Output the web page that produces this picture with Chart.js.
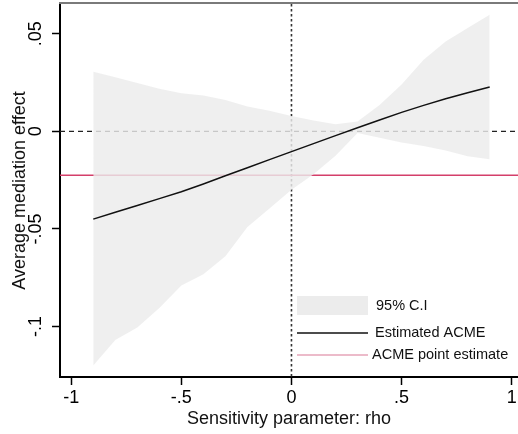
<!DOCTYPE html>
<html>
<head>
<meta charset="utf-8">
<script src="https://cdn.jsdelivr.net/npm/chart.js@4"></script>
<style>
  html, body { margin: 0; padding: 0; background: #fff; overflow: hidden; }
  #wrap { width: 518px; height: 434px; }
</style>
</head>
<body>
<div id="wrap"><canvas id="chart"></canvas></div>
<script>
// 민감도 분석 데이터
const rho = [-0.9, -0.8, -0.7, -0.6, -0.5, -0.4, -0.3, -0.2, -0.1, 0, 0.1, 0.2, 0.3, 0.4, 0.5, 0.6, 0.7, 0.8, 0.9];
const acme = [-0.045, -0.0415, -0.038, -0.0345, -0.031, -0.027, -0.0228, -0.0187, -0.0145, -0.0104,
              -0.0063, -0.0022, 0.0018, 0.0058, 0.0097, 0.0133, 0.0167, 0.0198, 0.0227];
const ciUpper = [0.0305, 0.0277, 0.0248, 0.0218, 0.0195, 0.0183, 0.016, 0.0127, 0.0105, 0.0078,
                 0.0055, 0.0036, 0.005, 0.0135, 0.024, 0.0367, 0.046, 0.053, 0.0598];
const ciLower = [-0.12, -0.107, -0.1005, -0.0905, -0.079, -0.0732, -0.064, -0.049, -0.0395, -0.030,
                 -0.022, -0.0125, -0.0008, -0.0033, -0.0057, -0.0075, -0.0098, -0.0128, -0.0143];
const acmePointEstimate = -0.0225;

const xTicks = [-1, -0.5, 0, 0.5, 1];
const xTickLabels = ["-1", "-.5", "0", ".5", "1"];
const yTicks = [-0.1, -0.05, 0, 0.05];
const yTickLabels = ["-.1", "-.05", "0", ".05"];
const legendLabels = ["95% C.I", "Estimated ACME", "ACME point estimate"];

const FONT = "'Liberation Sans', Arial, Helvetica, sans-serif";
const bandColor = "rgba(236, 236, 236, 0.82)";
const lineColor = "#111";
const pointColor = "#d43f6a";

const toXY = ys => rho.map((r, i) => ({ x: r, y: ys[i] }));

// 0 기준선과 ACME 점추정 선 (밴드 아래에 그림)
const refLines = {
    id: "refLines",
    beforeDatasetsDraw(chart) {
        const { ctx, chartArea: a, scales: { x, y } } = chart;
        ctx.save();
        ctx.beginPath();
        ctx.rect(a.left, a.top, a.right - a.left, a.bottom - a.top);
        ctx.clip();

        const y0 = y.getPixelForValue(0);
        ctx.strokeStyle = "#222";
        ctx.lineWidth = 1.2;
        ctx.setLineDash([5, 4]);
        ctx.beginPath();
        ctx.moveTo(a.left, y0);
        ctx.lineTo(a.right, y0);
        ctx.stroke();

        const x0 = x.getPixelForValue(0);
        ctx.strokeStyle = "#333";
        ctx.lineWidth = 1.6;
        ctx.setLineDash([2.5, 2.5]);
        ctx.beginPath();
        ctx.moveTo(x0, a.top);
        ctx.lineTo(x0, a.bottom);
        ctx.stroke();

        const yp = y.getPixelForValue(acmePointEstimate);
        ctx.setLineDash([]);
        ctx.strokeStyle = pointColor;
        ctx.lineWidth = 1.5;
        ctx.beginPath();
        ctx.moveTo(a.left, yp);
        ctx.lineTo(a.right, yp);
        ctx.stroke();
        ctx.restore();
    }
};

// 위쪽 테두리와 범례
const frameAndLegend = {
    id: "frameAndLegend",
    afterDraw(chart) {
        const { ctx, chartArea: a } = chart;
        ctx.save();
        ctx.strokeStyle = "#7a7a7a";
        ctx.lineWidth = 2;
        ctx.beginPath();
        ctx.moveTo(a.left - 1, a.top - 1);
        ctx.lineTo(a.right, a.top - 1);
        ctx.stroke();

        const lx = 297, lw = 71, tx = 375;
        ctx.fillStyle = "#ececec";
        ctx.fillRect(lx, 296, lw, 19);

        ctx.strokeStyle = lineColor;
        ctx.lineWidth = 1.3;
        ctx.beginPath();
        ctx.moveTo(lx, 333);
        ctx.lineTo(lx + lw, 333);
        ctx.stroke();

        ctx.strokeStyle = "#e6a4b8";
        ctx.beginPath();
        ctx.moveTo(lx, 355);
        ctx.lineTo(lx + lw, 355);
        ctx.stroke();

        ctx.fillStyle = "#111";
        ctx.font = "14.5px " + FONT;
        ctx.textBaseline = "middle";
        ctx.fillText(legendLabels[0], tx + 1, 306);
        ctx.fillText(legendLabels[1], tx, 333);
        ctx.fillText(legendLabels[2], tx - 3, 355);
        ctx.restore();
    }
};

new Chart(document.getElementById("chart"), {
    type: "line",
    data: {
        datasets: [
            { label: legendLabels[0], data: toXY(ciUpper), fill: "+1", backgroundColor: bandColor,
              borderWidth: 0, pointRadius: 0, order: 2 },
            { label: "lower", data: toXY(ciLower), fill: false, borderWidth: 0, pointRadius: 0, order: 3 },
            { label: legendLabels[1], data: toXY(acme), fill: false, borderColor: lineColor,
              borderWidth: 1.5, pointRadius: 0, order: 0 }
        ]
    },
    options: {
        responsive: true,
        maintainAspectRatio: false,
        animation: false,
        layout: { padding: { top: 4, left: 0, right: 0, bottom: 0 } },
        plugins: { legend: { display: false }, tooltip: { enabled: false } },
        elements: { line: { tension: 0 } },
        scales: {
            x: {
                type: "linear",
                min: -1.051,
                max: 1.0286,
                afterBuildTicks: s => { s.ticks = xTicks.map(v => ({ value: v })); },
                afterFit: s => { s.height = 57; s.paddingLeft = 0; s.paddingRight = 0; },
                grid: { drawOnChartArea: false, tickLength: 8, tickColor: "#000", tickWidth: 1.5 },
                border: { color: "#000", width: 2 },
                ticks: {
                    autoSkip: false, maxRotation: 0, padding: 2, color: "#000",
                    font: { size: 18, family: FONT },
                    callback: (v, i) => xTickLabels[i]
                },
                title: {
                    display: true, text: "Sensitivity parameter: rho", color: "#111",
                    font: { size: 18, family: FONT }, padding: { top: 0, bottom: 4.5 }
                }
            },
            y: {
                type: "linear",
                min: -0.1259,
                max: 0.06525,
                afterBuildTicks: s => { s.ticks = yTicks.map(v => ({ value: v })); },
                afterFit: s => { s.width = 60; s.paddingTop = 0; s.paddingBottom = 0; },
                grid: { drawOnChartArea: false, tickLength: 8, tickColor: "#000", tickWidth: 1.5 },
                border: { color: "#000", width: 2 },
                ticks: {
                    autoSkip: false, minRotation: 90, maxRotation: 90, crossAlign: "center",
                    padding: 0, color: "#000", font: { size: 18, family: FONT },
                    callback: (v, i) => yTickLabels[i]
                },
                title: {
                    display: true, text: "Average mediation effect", color: "#111",
                    font: { size: 18, family: FONT }, padding: { top: 9.6, bottom: 0 }
                }
            }
        }
    },
    plugins: [refLines, frameAndLegend]
});
</script>
</body>
</html>
